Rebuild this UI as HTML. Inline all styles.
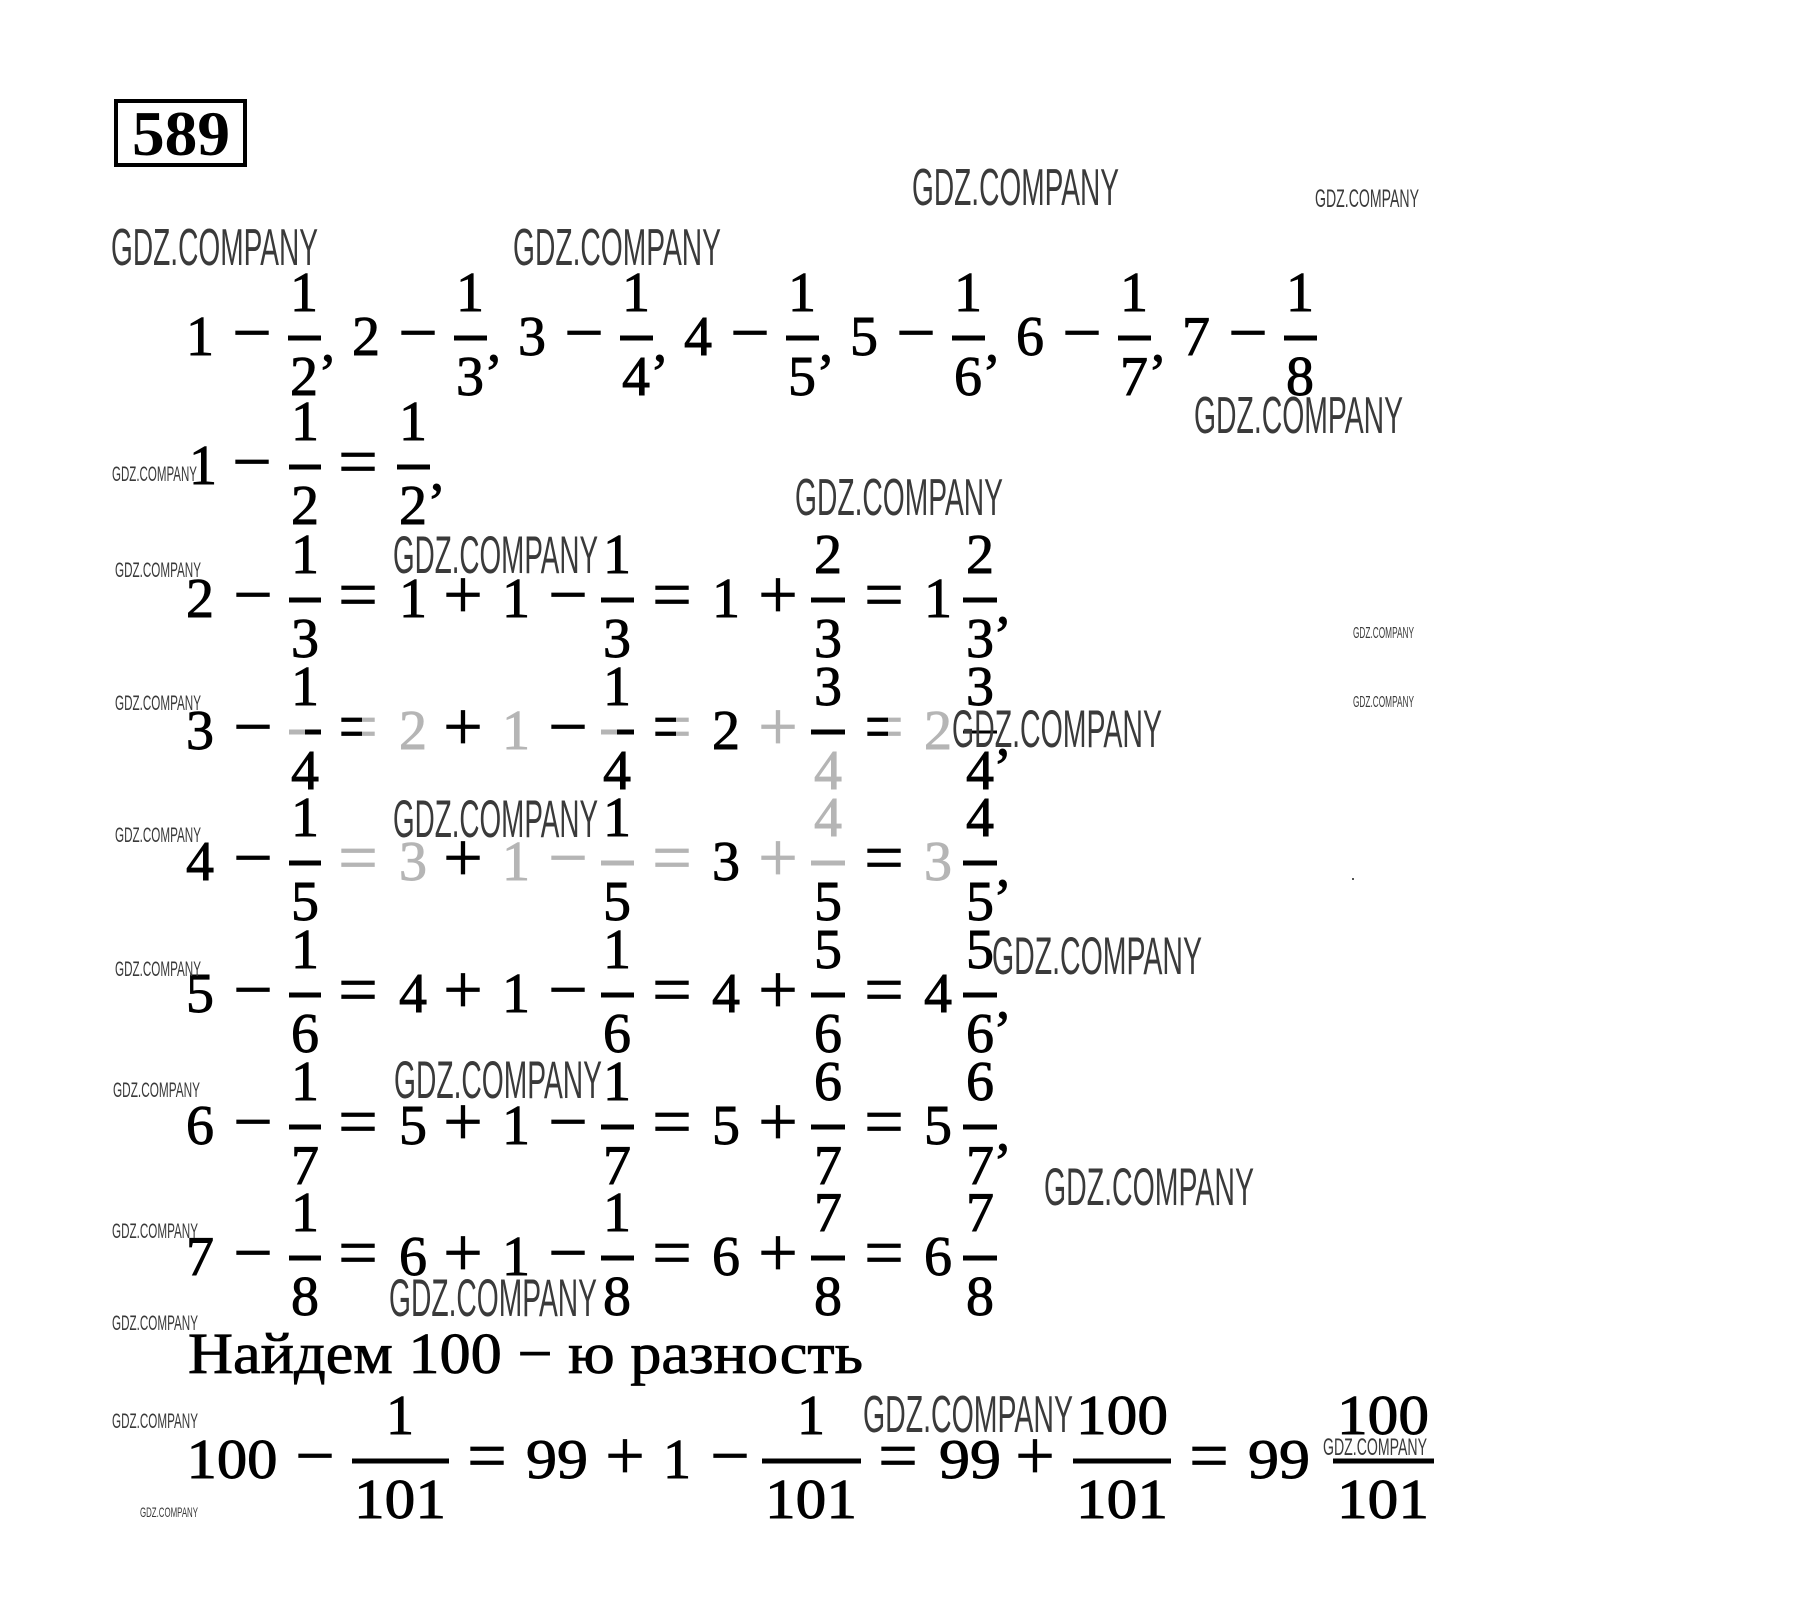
<!DOCTYPE html>
<html>
<head>
<meta charset="utf-8">
<style>
html,body{margin:0;padding:0;background:#fff;}
svg{display:block;}
.m{font-family:"Liberation Serif",serif;font-size:56px;text-anchor:middle;fill:#000;stroke:#000;stroke-width:0.9px;}
.o{font-family:"Liberation Serif",serif;font-size:70px;text-anchor:middle;fill:#000;stroke:#000;stroke-width:0.8px;}
.g{fill:#b5b5b5;stroke:#b5b5b5;}
.hg{fill:url(#hg);stroke:url(#hg);}
.w{font-family:"Liberation Sans",sans-serif;fill:#3a3a3a;}
</style>
</head>
<body>
<svg xmlns="http://www.w3.org/2000/svg" width="1820" height="1608" viewBox="0 0 1820 1608">
<defs>
<linearGradient id="hg" x1="0" x2="1" y1="0" y2="0">
<stop offset="0" stop-color="#000"/><stop offset="0.6" stop-color="#000"/>
<stop offset="0.6" stop-color="#b5b5b5"/><stop offset="1" stop-color="#b5b5b5"/>
</linearGradient>
</defs>
<rect width="1820" height="1608" fill="#fff"/>

<!-- 589 box -->
<rect x="116" y="101" width="129" height="64" fill="none" stroke="#000" stroke-width="4"/>
<text x="181" y="155" font-family="Liberation Serif, serif" font-weight="bold" font-size="63" text-anchor="middle" textLength="98" lengthAdjust="spacingAndGlyphs">589</text>

<!-- Row A -->
<g>
<text class="m" x="200" y="355">1</text><text class="o" x="252" y="356">−</text>
<rect x="288" y="335.5" width="33" height="5"/><text class="m" x="304" y="311">1</text><text class="m" x="304" y="395">2</text><text class="m" x="328" y="361">,</text>
<text class="m" x="366" y="355">2</text><text class="o" x="418" y="356">−</text>
<rect x="454" y="335.5" width="33" height="5"/><text class="m" x="470" y="311">1</text><text class="m" x="470" y="395">3</text><text class="m" x="494" y="361">,</text>
<text class="m" x="532" y="355">3</text><text class="o" x="584" y="356">−</text>
<rect x="620" y="335.5" width="33" height="5"/><text class="m" x="636" y="311">1</text><text class="m" x="636" y="395">4</text><text class="m" x="660" y="361">,</text>
<text class="m" x="698" y="355">4</text><text class="o" x="750" y="356">−</text>
<rect x="786" y="335.5" width="33" height="5"/><text class="m" x="802" y="311">1</text><text class="m" x="802" y="395">5</text><text class="m" x="826" y="361">,</text>
<text class="m" x="864" y="355">5</text><text class="o" x="916" y="356">−</text>
<rect x="952" y="335.5" width="33" height="5"/><text class="m" x="968" y="311">1</text><text class="m" x="968" y="395">6</text><text class="m" x="992" y="361">,</text>
<text class="m" x="1030" y="355">6</text><text class="o" x="1082" y="356">−</text>
<rect x="1118" y="335.5" width="33" height="5"/><text class="m" x="1134" y="311">1</text><text class="m" x="1134" y="395">7</text><text class="m" x="1158" y="361">,</text>
<text class="m" x="1196" y="355">7</text><text class="o" x="1248" y="356">−</text>
<rect x="1284" y="335.5" width="33" height="5"/><text class="m" x="1300" y="311">1</text><text class="m" x="1300" y="395">8</text>
</g>

<!-- Row B -->
<g>
<text class="m" x="203" y="484">1</text><text class="o" x="252" y="485">−</text>
<rect x="289" y="464.5" width="32" height="5"/><text class="m" x="305" y="440">1</text><text class="m" x="305" y="524">2</text>
<text class="o" x="358" y="485">=</text>
<rect x="397" y="464.5" width="33" height="5"/><text class="m" x="413" y="440">1</text><text class="m" x="413" y="524">2</text>
<text class="m" x="437" y="490">,</text>
</g>

<!-- Row C: 2 -->
<g>
<text class="m" x="200" y="617">2</text><text class="o" x="253" y="618">−</text>
<rect x="289" y="597.5" width="32" height="5"/><text class="m" x="305" y="573">1</text><text class="m" x="305" y="657">3</text>
<text class="o" x="358" y="618">=</text><text class="m" x="413" y="617">1</text><text class="o" x="463" y="618">+</text>
<text class="m" x="516" y="617">1</text><text class="o" x="568" y="618">−</text>
<rect x="601" y="597.5" width="33" height="5"/><text class="m" x="617" y="573">1</text><text class="m" x="617" y="657">3</text>
<text class="o" x="672" y="618">=</text><text class="m" x="726" y="617">1</text><text class="o" x="778" y="618">+</text>
<rect x="811" y="597.5" width="34" height="5"/><text class="m" x="828" y="573">2</text><text class="m" x="828" y="657">3</text>
<text class="o" x="884" y="618">=</text><text class="m" x="938" y="617">1</text>
<rect x="963" y="597.5" width="34" height="5"/><text class="m" x="980" y="573">2</text><text class="m" x="980" y="657">3</text>
<text class="m" x="1003" y="623">,</text>
</g>

<!-- Row D: 3 (partly faded) -->
<g>
<text class="m" x="200" y="749">3</text><text class="o" x="253" y="750">−</text>
<rect x="289" y="729.5" width="16" height="5" fill="#b5b5b5"/><rect x="305" y="729.5" width="16" height="5"/>
<text class="m" x="305" y="705">1</text><text class="m" x="305" y="789">4</text>
<text class="o hg" x="358" y="750">=</text><text class="m g" x="413" y="749">2</text><text class="o" x="463" y="750">+</text>
<text class="m g" x="516" y="749">1</text><text class="o" x="568" y="750">−</text>
<rect x="601" y="729.5" width="16" height="5" fill="#b5b5b5"/><rect x="617" y="729.5" width="17" height="5"/>
<text class="m" x="617" y="705">1</text><text class="m" x="617" y="789">4</text>
<text class="o hg" x="672" y="750">=</text><text class="m" x="726" y="749">2</text><text class="o g" x="778" y="750">+</text>
<rect x="811" y="729.5" width="34" height="5"/><text class="m" x="828" y="705">3</text><text class="m g" x="828" y="789">4</text>
<text class="o hg" x="884" y="750">=</text><text class="m g" x="938" y="749">2</text>
<rect x="963" y="730.5" width="34" height="3"/><text class="m" x="980" y="705">3</text><text class="m" x="980" y="789">4</text>
<text class="m" x="1003" y="755">,</text>
</g>

<!-- Row E: 4 (partly faded) -->
<g>
<text class="m" x="200" y="880">4</text><text class="o" x="253" y="881">−</text>
<rect x="289" y="860.5" width="32" height="5"/><text class="m" x="305" y="836">1</text><text class="m" x="305" y="920">5</text>
<text class="o g" x="358" y="881">=</text><text class="m g" x="413" y="880">3</text><text class="o" x="463" y="881">+</text>
<text class="m g" x="516" y="880">1</text><text class="o g" x="568" y="881">−</text>
<rect x="601" y="860.5" width="33" height="5" fill="#b5b5b5"/><text class="m" x="617" y="836">1</text><text class="m" x="617" y="920">5</text>
<text class="o g" x="672" y="881">=</text><text class="m" x="726" y="880">3</text><text class="o g" x="778" y="881">+</text>
<rect x="811" y="860.5" width="34" height="5" fill="#b5b5b5"/><text class="m g" x="828" y="836">4</text><text class="m" x="828" y="920">5</text>
<text class="o" x="884" y="881">=</text><text class="m g" x="938" y="880">3</text>
<rect x="963" y="860.5" width="34" height="5"/><text class="m" x="980" y="836">4</text><text class="m" x="980" y="920">5</text>
<text class="m" x="1003" y="886">,</text>
</g>

<!-- Row F: 5 -->
<g>
<text class="m" x="200" y="1012">5</text><text class="o" x="253" y="1013">−</text>
<rect x="289" y="992.5" width="32" height="5"/><text class="m" x="305" y="968">1</text><text class="m" x="305" y="1052">6</text>
<text class="o" x="358" y="1013">=</text><text class="m" x="413" y="1012">4</text><text class="o" x="463" y="1013">+</text>
<text class="m" x="516" y="1012">1</text><text class="o" x="568" y="1013">−</text>
<rect x="601" y="992.5" width="33" height="5"/><text class="m" x="617" y="968">1</text><text class="m" x="617" y="1052">6</text>
<text class="o" x="672" y="1013">=</text><text class="m" x="726" y="1012">4</text><text class="o" x="778" y="1013">+</text>
<rect x="811" y="992.5" width="34" height="5"/><text class="m" x="828" y="968">5</text><text class="m" x="828" y="1052">6</text>
<text class="o" x="884" y="1013">=</text><text class="m" x="938" y="1012">4</text>
<rect x="963" y="992.5" width="34" height="5"/><text class="m" x="980" y="968">5</text><text class="m" x="980" y="1052">6</text>
<text class="m" x="1003" y="1018">,</text>
</g>

<!-- Row G: 6 -->
<g>
<text class="m" x="200" y="1144">6</text><text class="o" x="253" y="1145">−</text>
<rect x="289" y="1124.5" width="32" height="5"/><text class="m" x="305" y="1100">1</text><text class="m" x="305" y="1184">7</text>
<text class="o" x="358" y="1145">=</text><text class="m" x="413" y="1144">5</text><text class="o" x="463" y="1145">+</text>
<text class="m" x="516" y="1144">1</text><text class="o" x="568" y="1145">−</text>
<rect x="601" y="1124.5" width="33" height="5"/><text class="m" x="617" y="1100">1</text><text class="m" x="617" y="1184">7</text>
<text class="o" x="672" y="1145">=</text><text class="m" x="726" y="1144">5</text><text class="o" x="778" y="1145">+</text>
<rect x="811" y="1124.5" width="34" height="5"/><text class="m" x="828" y="1100">6</text><text class="m" x="828" y="1184">7</text>
<text class="o" x="884" y="1145">=</text><text class="m" x="938" y="1144">5</text>
<rect x="963" y="1124.5" width="34" height="5"/><text class="m" x="980" y="1100">6</text><text class="m" x="980" y="1184">7</text>
<text class="m" x="1003" y="1150">,</text>
</g>

<!-- Row H: 7 -->
<g>
<text class="m" x="200" y="1275">7</text><text class="o" x="253" y="1276">−</text>
<rect x="289" y="1255.5" width="32" height="5"/><text class="m" x="305" y="1231">1</text><text class="m" x="305" y="1315">8</text>
<text class="o" x="358" y="1276">=</text><text class="m" x="413" y="1275">6</text><text class="o" x="463" y="1276">+</text>
<text class="m" x="516" y="1275">1</text><text class="o" x="568" y="1276">−</text>
<rect x="601" y="1255.5" width="33" height="5"/><text class="m" x="617" y="1231">1</text><text class="m" x="617" y="1315">8</text>
<text class="o" x="672" y="1276">=</text><text class="m" x="726" y="1275">6</text><text class="o" x="778" y="1276">+</text>
<rect x="811" y="1255.5" width="34" height="5"/><text class="m" x="828" y="1231">7</text><text class="m" x="828" y="1315">8</text>
<text class="o" x="884" y="1276">=</text><text class="m" x="938" y="1275">6</text>
<rect x="963" y="1255.5" width="34" height="5"/><text class="m" x="980" y="1231">7</text><text class="m" x="980" y="1315">8</text>
</g>

<!-- Row J -->
<text x="188" y="1373" font-family="Liberation Serif, serif" font-size="58" stroke="#000" stroke-width="0.8" textLength="675" lengthAdjust="spacingAndGlyphs">Найдем 100 − ю разность</text>

<!-- Row K -->
<g>
<text class="m" x="232" y="1478" textLength="91" lengthAdjust="spacingAndGlyphs">100</text>
<text class="o" x="315" y="1479">−</text>
<rect x="352" y="1458.5" width="97" height="5"/><text class="m" x="400" y="1434">1</text><text class="m" x="400" y="1518" textLength="92" lengthAdjust="spacingAndGlyphs">101</text>
<text class="o" x="487" y="1479">=</text>
<text class="m" x="557" y="1478" textLength="62" lengthAdjust="spacingAndGlyphs">99</text>
<text class="o" x="625" y="1479">+</text>
<text class="m" x="677" y="1478">1</text>
<text class="o" x="730" y="1479">−</text>
<rect x="762" y="1458.5" width="99" height="5"/><text class="m" x="811" y="1434">1</text><text class="m" x="811" y="1518" textLength="92" lengthAdjust="spacingAndGlyphs">101</text>
<text class="o" x="898" y="1479">=</text>
<text class="m" x="970" y="1478" textLength="62" lengthAdjust="spacingAndGlyphs">99</text>
<text class="o" x="1035" y="1479">+</text>
<rect x="1073" y="1458.5" width="98" height="5"/><text class="m" x="1122" y="1434" textLength="92" lengthAdjust="spacingAndGlyphs">100</text><text class="m" x="1122" y="1518" textLength="92" lengthAdjust="spacingAndGlyphs">101</text>
<text class="o" x="1209" y="1479">=</text>
<text class="m" x="1279" y="1478" textLength="62" lengthAdjust="spacingAndGlyphs">99</text>
<rect x="1333" y="1458.5" width="101" height="5"/><text class="m" x="1383" y="1434" textLength="92" lengthAdjust="spacingAndGlyphs">100</text><text class="m" x="1383" y="1518" textLength="92" lengthAdjust="spacingAndGlyphs">101</text>
</g>

<!-- Watermarks: big -->
<g class="w">
<text x="912" y="205" font-size="52" textLength="207" lengthAdjust="spacingAndGlyphs">GDZ.COMPANY</text>
<text x="111" y="265" font-size="52" textLength="207" lengthAdjust="spacingAndGlyphs">GDZ.COMPANY</text>
<text x="513" y="265" font-size="52" textLength="208" lengthAdjust="spacingAndGlyphs">GDZ.COMPANY</text>
<text x="1194" y="433" font-size="52" textLength="209" lengthAdjust="spacingAndGlyphs">GDZ.COMPANY</text>
<text x="795" y="515" font-size="52" textLength="208" lengthAdjust="spacingAndGlyphs">GDZ.COMPANY</text>
<text x="393" y="573" font-size="53" textLength="205" lengthAdjust="spacingAndGlyphs">GDZ.COMPANY</text>
<text x="952" y="747" font-size="53" textLength="210" lengthAdjust="spacingAndGlyphs">GDZ.COMPANY</text>
<text x="393" y="837" font-size="53" textLength="205" lengthAdjust="spacingAndGlyphs">GDZ.COMPANY</text>
<text x="992" y="974" font-size="53" textLength="210" lengthAdjust="spacingAndGlyphs">GDZ.COMPANY</text>
<text x="394" y="1098" font-size="53" textLength="208" lengthAdjust="spacingAndGlyphs">GDZ.COMPANY</text>
<text x="1044" y="1205" font-size="53" textLength="210" lengthAdjust="spacingAndGlyphs">GDZ.COMPANY</text>
<text x="389" y="1316" font-size="53" textLength="208" lengthAdjust="spacingAndGlyphs">GDZ.COMPANY</text>
<text x="863" y="1432" font-size="52" textLength="210" lengthAdjust="spacingAndGlyphs">GDZ.COMPANY</text>
</g>

<!-- Watermarks: small -->
<g class="w">
<text x="1315" y="207" font-size="25" textLength="104" lengthAdjust="spacingAndGlyphs">GDZ.COMPANY</text>
<text x="112" y="481" font-size="21" textLength="85" lengthAdjust="spacingAndGlyphs">GDZ.COMPANY</text>
<text x="115" y="577" font-size="21" textLength="86" lengthAdjust="spacingAndGlyphs">GDZ.COMPANY</text>
<text x="115" y="710" font-size="21" textLength="86" lengthAdjust="spacingAndGlyphs">GDZ.COMPANY</text>
<text x="115" y="842" font-size="21" textLength="86" lengthAdjust="spacingAndGlyphs">GDZ.COMPANY</text>
<text x="115" y="976" font-size="21" textLength="86" lengthAdjust="spacingAndGlyphs">GDZ.COMPANY</text>
<text x="113" y="1097" font-size="21" textLength="87" lengthAdjust="spacingAndGlyphs">GDZ.COMPANY</text>
<text x="112" y="1238" font-size="21" textLength="86" lengthAdjust="spacingAndGlyphs">GDZ.COMPANY</text>
<text x="112" y="1330" font-size="21" textLength="86" lengthAdjust="spacingAndGlyphs">GDZ.COMPANY</text>
<text x="112" y="1428" font-size="21" textLength="86" lengthAdjust="spacingAndGlyphs">GDZ.COMPANY</text>
<text x="1323" y="1455" font-size="24" textLength="104" lengthAdjust="spacingAndGlyphs">GDZ.COMPANY</text>
<text x="140" y="1517" font-size="14" textLength="58" lengthAdjust="spacingAndGlyphs">GDZ.COMPANY</text>
<text x="1353" y="638" font-size="16" textLength="61" lengthAdjust="spacingAndGlyphs">GDZ.COMPANY</text>
<text x="1353" y="707" font-size="16" textLength="61" lengthAdjust="spacingAndGlyphs">GDZ.COMPANY</text>
</g>
<rect x="1352" y="878" width="2" height="2" fill="#555"/>
</svg>
</body>
</html>
